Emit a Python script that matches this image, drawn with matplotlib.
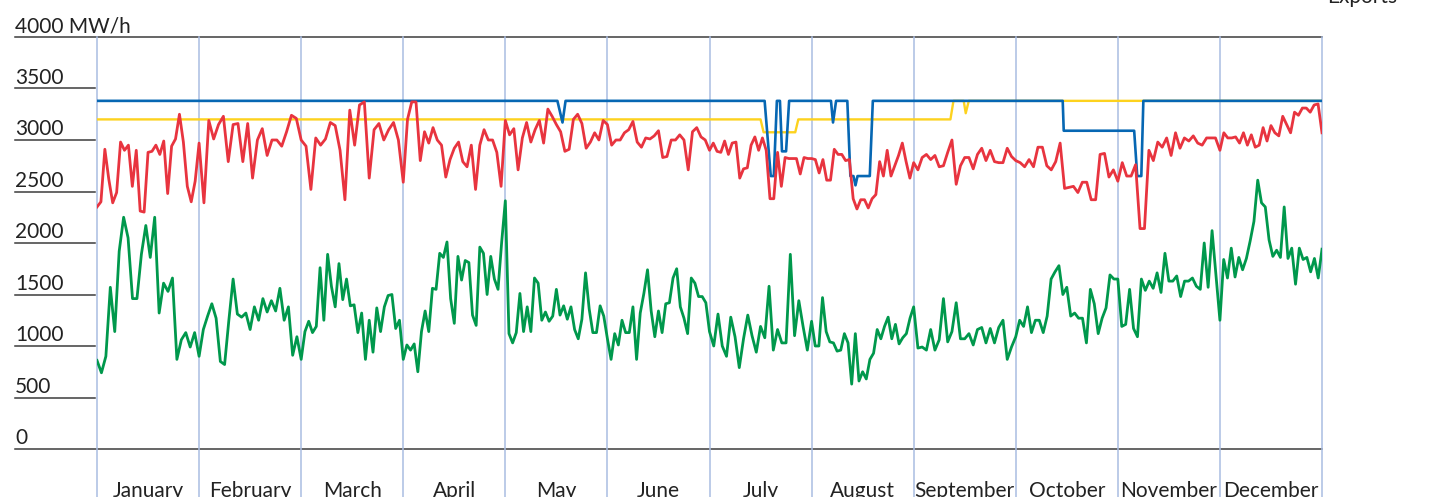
import matplotlib.pyplot as plt
import numpy as np

plt.rcParams['font.family'] = ['Lato', 'DejaVu Sans']

months = ['January', 'February', 'March', 'April', 'May', 'June', 'July',
          'August', 'September', 'October', 'November', 'December']
levels = [0, 500, 1000, 1500, 2000, 2500, 3000, 3500, 4000]
level_labels = ['0', '500', '1000', '1500', '2000', '2500', '3000', '3500', '4000 MW/h']

# daily values, one list per month (MW/h)
red_by_month = [
    [2350, 2400, 2910, 2620, 2390, 2490, 2980, 2900, 2950, 2550, 2900, 2310, 2300, 2880,
     2890, 2950, 2860, 2990, 2480, 2940, 3010, 3250, 2980, 2550, 2400, 2600],
    [2970, 2390, 3190, 3010, 3150, 3230, 2790, 3150, 3160, 2790, 3160, 2630, 3000, 3110,
     2850, 3000, 3000, 2940, 3080, 3240, 3210],
    [3000, 2940, 2520, 3020, 2950, 3010, 3170, 3140, 2900, 2420, 3290, 2950, 3340, 3370,
     2630, 3100, 3160, 3000, 3100, 3170, 3000],
    [2590, 3200, 3370, 3370, 2800, 3080, 2970, 3120, 3000, 2950, 2640, 2810, 2920, 2980,
     2790, 2740, 2950, 2520, 2950, 3100, 3000, 3000, 2880, 2550],
    [3190, 3050, 3110, 2710, 3020, 3170, 2980, 3100, 3190, 2970, 3300, 3230, 3150, 3080,
     2890, 2910, 3200, 3250, 3160, 2920, 2980, 3070, 3000, 3190],
    [3150, 2950, 3000, 3000, 3070, 3100, 3180, 2980, 2930, 3020, 3010, 3040, 3090, 2830,
     2840, 3000, 3000, 3050, 3000, 2710, 3080, 3120, 3030, 3000],
    [2900, 2970, 2890, 2880, 2990, 2860, 2970, 2980, 2630, 2720, 2730, 2950, 3030, 2900,
     3020, 2900, 2430, 2430, 2880, 2550, 2830, 2820, 2820, 2820, 2670, 2830, 2820],
    [2820, 2810, 2680, 2810, 2610, 2610, 2910, 2860, 2860, 2800, 2810, 2430, 2330, 2420,
     2420, 2340, 2430, 2470, 2790, 2650, 2900, 2650, 2750, 2850, 2970, 2790, 2630],
    [2780, 2710, 2830, 2860, 2810, 2850, 2740, 2750, 2880, 3000, 2570, 2750, 2830, 2830,
     2720, 2860, 2920, 2800, 2900, 2790, 2780, 2780, 2920, 2840],
    [2800, 2780, 2740, 2810, 2740, 2930, 2930, 2750, 2710, 2790, 2970, 2530, 2540, 2550,
     2490, 2590, 2590, 2420, 2420, 2860, 2870, 2640, 2710],
    [2600, 2780, 2650, 2650, 2760, 2140, 2140, 2900, 2800, 2980, 2930, 3020, 2850, 3070,
     2920, 3020, 2990, 3040, 2970, 2950, 3020, 3020, 3020],
    [2900, 3070, 3020, 3020, 3030, 2970, 3070, 2950, 3050, 2930, 2950, 3120, 2990, 3140,
     3070, 3040, 3230, 3150, 3070, 3270, 3240, 3310, 3310, 3270, 3340, 3350, 3070],
]

green_by_month = [
    [860, 740, 900, 1570, 1140, 1920, 2250, 2050, 1460, 1460, 1890, 2170, 1860, 2250,
     1320, 1610, 1530, 1660, 870, 1060, 1130, 990, 1130],
    [900, 1160, 1290, 1410, 1270, 850, 820, 1250, 1650, 1310, 1280, 1320, 1160, 1380,
     1250, 1460, 1330, 1440, 1340, 1560, 1250, 1380, 910, 1090],
    [870, 1140, 1240, 1130, 1190, 1760, 1250, 1890, 1580, 1380, 1800, 1450, 1650, 1390,
     1400, 1130, 1320, 870, 1250, 940, 1370, 1140, 1380, 1490, 1500, 1170, 1250],
    [870, 1010, 960, 1020, 750, 1140, 1340, 1140, 1560, 1550, 1900, 1860, 2010, 1460,
     1220, 1870, 1640, 1830, 1810, 1300, 1200, 1960, 1900, 1500, 1870, 1650, 1550, 2010],
    [2410, 1120, 1030, 1130, 1510, 1140, 1380, 1140, 1660, 1610, 1250, 1330, 1240, 1290,
     1550, 1300, 1390, 1260, 1380, 1160, 1070, 1260, 1710, 1360, 1130, 1130, 1390, 1290],
    [1070, 870, 1120, 1010, 1250, 1130, 1130, 1380, 870, 1320, 1510, 1740, 1340, 1090,
     1340, 1130, 1410, 1420, 1660, 1750, 1380, 1270, 1120, 1660, 1610, 1480, 1480, 1420],
    [1140, 1000, 1310, 1000, 900, 1280, 1090, 790, 1070, 1300, 1100, 940, 1190, 1080,
     1580, 960, 1160, 1030, 1030, 1890, 1100, 1440, 1190, 960],
    [1240, 1000, 1000, 1470, 1140, 1040, 1030, 950, 960, 1120, 1030, 630, 1120, 660,
     750, 680, 870, 930, 1160, 1070, 1190, 1280, 1070, 1210, 1020, 1080, 1120, 1270],
    [1380, 980, 990, 960, 1160, 960, 1060, 1460, 1040, 1140, 1420, 1070, 1070, 1120,
     1010, 1160, 1180, 1030, 1170, 1030, 1180, 1250, 870, 990],
    [1090, 1250, 1190, 1380, 1130, 1250, 1250, 1130, 1290, 1650, 1720, 1780, 1500, 1570,
     1290, 1320, 1270, 1270, 1030, 1550, 1410, 1120, 1270, 1370, 1690, 1650],
    [1650, 1190, 1210, 1550, 1170, 1090, 1650, 1540, 1630, 1560, 1710, 1520, 1900, 1630,
     1630, 1680, 1480, 1630, 1630, 1660, 1580, 1550, 2000, 1570, 2120, 1680],
    [1250, 1840, 1660, 1950, 1670, 1860, 1740, 1850, 2020, 2210, 2610, 2390, 2350, 2030,
     1870, 1930, 1860, 2350, 1850, 1950, 1600, 1950, 1840, 1860, 1720, 1850, 1660, 1940],
]

# step series: position in months, value
blue_pos = [0, 4.51, 4.56, 4.59, 6.54, 6.60, 6.63, 6.66, 6.69, 6.71, 6.75, 6.78,
            7.19, 7.21, 7.24, 7.35, 7.38, 7.41, 7.43, 7.45, 7.57, 7.60,
            9.46, 9.47, 10.16, 10.19, 10.23, 10.25, 12]
blue_val = [3380, 3380, 3170, 3380, 3380, 2650, 2650, 3380, 3380, 2890, 2890, 3380,
            3380, 3170, 3380, 3380, 2650, 2650, 2560, 2650, 2650, 3380,
            3380, 3090, 3090, 2650, 2650, 3380, 3380]
yellow_pos = [0, 6.50, 6.53, 6.84, 6.87, 8.36, 8.39, 8.49, 8.51, 8.54, 12]
yellow_val = [3200, 3200, 3075, 3075, 3200, 3200, 3380, 3380, 3260, 3380, 3380]


def month_x(groups):
    xs = []
    for m, vals in enumerate(groups):
        n = len(vals)
        if m == len(groups) - 1:
            xs.append(m + np.arange(n) / (n - 1))
        else:
            xs.append(m + np.arange(n) / n)
    return np.concatenate(xs), np.concatenate([np.array(v, float) for v in groups])


fig = plt.figure(figsize=(14.55, 4.97), dpi=100)
ax = fig.add_axes([97 / 1455, 48 / 497, 1225 / 1455, 412 / 497])
ax.set_xlim(0, 12)
ax.set_ylim(0, 4000)
ax.axis('off')

ytr = ax.get_yaxis_transform()
xtr = ax.get_xaxis_transform()
x_left = -82 / 1225

for val, lab in zip(levels, level_labels):
    x_right = 1.0 if val in (0, 4000) else -2 / 1225
    ax.plot([x_left, x_right], [val, val], transform=ytr, color='#3c3c3c',
            lw=1.1, clip_on=False, zorder=1)
    ax.text(x_left, val + 45, lab, transform=ytr, ha='left', va='baseline',
            fontsize=15, color='#222222')

for m in range(13):
    ax.plot([m, m], [-0.2, 1], transform=xtr, color='#aabde2', lw=1.1,
            clip_on=False, zorder=1)

for m, name in enumerate(months):
    ax.text(m + 0.5, -465, name, ha='center', va='baseline', fontsize=15,
            color='#222222', clip_on=False)

ax.text(1.004, 4330, 'Exports', transform=ytr, ha='left', va='baseline',
        fontsize=15, color='#222222', clip_on=False)

gx, gy = month_x(green_by_month)
rx, ry = month_x(red_by_month)
ax.plot(gx, gy, color='#00984c', lw=2.0, zorder=3)
ax.plot(yellow_pos, yellow_val, color='#fdd21e', lw=1.7, zorder=4)
ax.plot(blue_pos, blue_val, color='#0667b3', lw=1.9, zorder=5)
ax.plot(rx, ry, color='#e8343f', lw=2.0, zorder=6)

fig.savefig('out.png', dpi=100)
